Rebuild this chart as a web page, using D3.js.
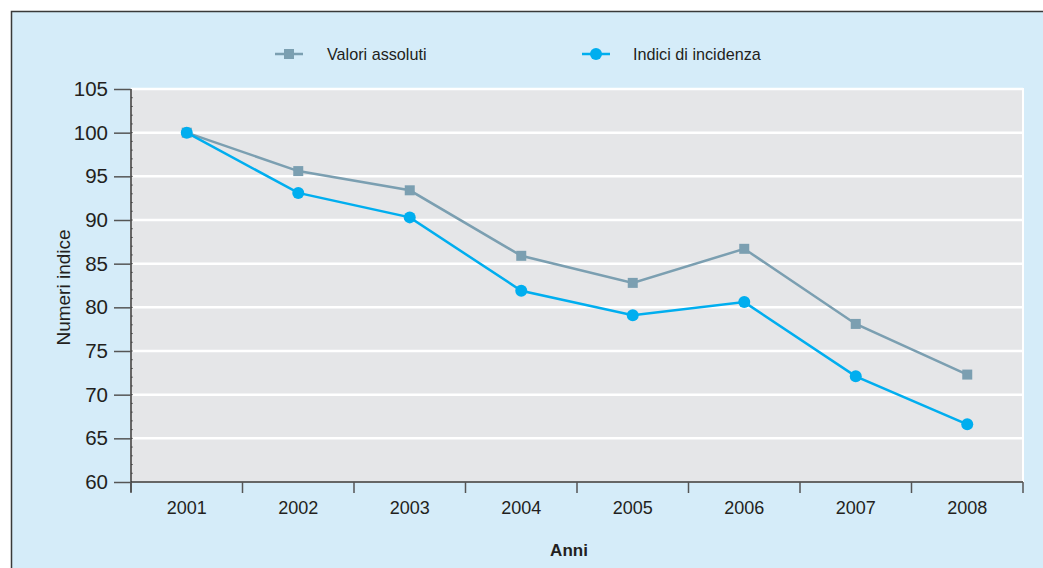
<!DOCTYPE html>
<html><head><meta charset="utf-8">
<script src="https://cdn.jsdelivr.net/npm/d3@7"></script>
<style>
html,body{margin:0;padding:0;background:#fff;}
svg{display:block;}
text{font-family:"Liberation Sans",Arial,Helvetica,sans-serif;fill:#231f20;}
</style></head>
<body>
<svg id="chart" width="1043" height="568"></svg>
<script>
const years = ["2001","2002","2003","2004","2005","2006","2007","2008"];
const valoriAssoluti = [100, 95.6, 93.4, 85.9, 82.8, 86.7, 78.1, 72.3];
const indiciIncidenza = [100, 93.1, 90.3, 81.9, 79.1, 80.6, 72.1, 66.6];
const yTicks = [60, 65, 70, 75, 80, 85, 90, 95, 100, 105];
const seriesNames = ["Valori assoluti", "Indici di incidenza"];

const svg = d3.select("#chart");
const W = 1043, H = 568;
const L = 131, R = 1023, T = 89, B = 482;
const colGrey = "#7b9fb1", colBlue = "#00aeef";

// panel
svg.append("rect").attr("x", 11.5).attr("y", 11.5).attr("width", W + 10).attr("height", H + 10)
  .attr("fill", "#d5ecf9").attr("stroke", "#3a3a3a").attr("stroke-width", 1.5);

const x = d3.scaleBand().domain(years).range([L, R]);
const y = d3.scaleLinear().domain([60, 105]).range([B, T]);

// plot bg
svg.append("rect").attr("x", L).attr("y", T).attr("width", R - L).attr("height", B - T)
  .attr("fill", "#e5e6e8").attr("stroke", "#fff").attr("stroke-width", 2);

// gridlines
svg.append("g").selectAll("line").data(yTicks.filter(d => d > 60)).join("line")
  .attr("x1", L).attr("x2", R).attr("y1", d => y(d)).attr("y2", d => y(d))
  .attr("stroke", "#fff").attr("stroke-width", 2.5);

// minor ticks
svg.append("g").selectAll("line").data(d3.range(61, 105)).join("line")
  .attr("x1", L).attr("x2", L + 2).attr("y1", d => y(d)).attr("y2", d => y(d))
  .attr("stroke", "#777").attr("stroke-width", 1);

// y axis
const yAxis = svg.append("g").attr("transform", `translate(${L},0)`)
  .call(d3.axisLeft(y).tickValues(yTicks).tickSize(17).tickPadding(6).tickSizeOuter(0));
yAxis.select(".domain").attr("stroke", "#333").attr("stroke-width", 1.5).attr("d", `M0,${T}V${B + 10}`);
yAxis.selectAll(".tick line").attr("stroke", "#555").attr("stroke-width", 1.5);
yAxis.selectAll(".tick text").attr("font-size", 20.5).attr("fill", "#231f20")
  .attr("font-family", "Liberation Sans, Arial, sans-serif");

// x axis
const xAxis = svg.append("g").attr("transform", `translate(0,${B})`)
  .call(d3.axisBottom(x).tickSize(0).tickPadding(19).tickSizeOuter(0));
xAxis.select(".domain").attr("stroke", "#333").attr("stroke-width", 1.5).attr("d", `M${L},0H${R}`);
xAxis.selectAll(".tick text").attr("font-size", 18).attr("fill", "#231f20")
  .attr("font-family", "Liberation Sans, Arial, sans-serif");
const bounds = years.map(d => x(d)).concat([x(years[years.length - 1]) + x.bandwidth()]);
svg.append("g").selectAll("line").data(bounds).join("line")
  .attr("x1", d => d).attr("x2", d => d).attr("y1", B).attr("y2", B + 11)
  .attr("stroke", "#555").attr("stroke-width", 1.5);

// axis titles
svg.append("text").attr("x", 569).attr("y", 556).attr("text-anchor", "middle")
  .attr("font-size", 17).attr("font-weight", "bold").text("Anni");
svg.append("text").attr("transform", "translate(70,287.5) rotate(-90)").attr("text-anchor", "middle")
  .attr("font-size", 19).text("Numeri indice");

const cx = d => x(d) + x.bandwidth() / 2;
const line = d3.line().x((d, i) => cx(years[i])).y(d => y(d));

// series 1
svg.append("path").datum(valoriAssoluti).attr("d", line).attr("fill", "none")
  .attr("stroke", colGrey).attr("stroke-width", 2.5);
svg.append("g").selectAll("rect").data(valoriAssoluti).join("rect")
  .attr("x", (d, i) => cx(years[i]) - 5).attr("y", d => y(d) - 5)
  .attr("width", 10).attr("height", 10).attr("fill", colGrey);

// series 2
svg.append("path").datum(indiciIncidenza).attr("d", line).attr("fill", "none")
  .attr("stroke", colBlue).attr("stroke-width", 2.5);
svg.append("g").selectAll("circle").data(indiciIncidenza).join("circle")
  .attr("cx", (d, i) => cx(years[i])).attr("cy", d => y(d)).attr("r", 6).attr("fill", colBlue);

// legend
const leg = svg.append("g");
leg.append("line").attr("x1", 275).attr("x2", 303).attr("y1", 54).attr("y2", 54)
  .attr("stroke", colGrey).attr("stroke-width", 2.5);
leg.append("rect").attr("x", 284).attr("y", 49).attr("width", 10).attr("height", 10).attr("fill", colGrey);
leg.append("text").attr("x", 327).attr("y", 60).attr("font-size", 16.2).text(seriesNames[0]);
leg.append("line").attr("x1", 582).attr("x2", 610).attr("y1", 54).attr("y2", 54)
  .attr("stroke", colBlue).attr("stroke-width", 2.5);
leg.append("circle").attr("cx", 596).attr("cy", 54).attr("r", 6).attr("fill", colBlue);
leg.append("text").attr("x", 633).attr("y", 60).attr("font-size", 16.2).text(seriesNames[1]);
</script>
</body></html>
